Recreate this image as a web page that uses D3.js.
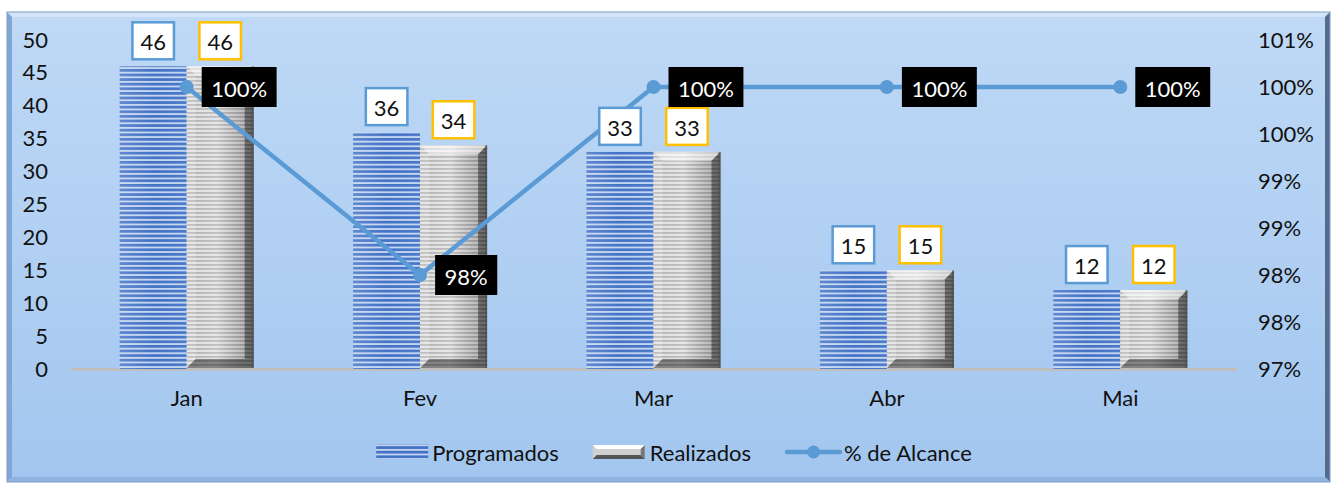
<!DOCTYPE html>
<html>
<head>
<meta charset="utf-8">
<script src="https://cdn.jsdelivr.net/npm/d3@7/dist/d3.min.js"></script>
<style>
  html, body { margin: 0; padding: 0; background: #ffffff; }
  svg { display: block; }
  text { font-family: Lato, "Noto Sans", sans-serif; }
</style>
</head>
<body>
<script>
// Monthly data
const categories = ["Jan", "Fev", "Mar", "Abr", "Mai"];
const programados = [46, 36, 33, 15, 12];
const realizados = [46, 34, 33, 15, 12];
const alcance = [1.00, 0.98, 1.00, 1.00, 1.00];
const alcanceLabels = ["100%", "98%", "100%", "100%", "100%"];
const seriesNames = ["Programados", "Realizados", "% de Alcance"];
const leftTicks = [0, 5, 10, 15, 20, 25, 30, 35, 40, 45, 50];
const rightTicks = [0.97, 0.975, 0.98, 0.985, 0.99, 0.995, 1.00, 1.005];
const rightTickLabels = ["97%", "98%", "98%", "99%", "99%", "100%", "100%", "101%"];

const W = 1336, H = 484;
const plot = { left: 70, right: 1237, top: 40, bottom: 369 };

const svg = d3.select("body").append("svg").attr("width", W).attr("height", H);
const defs = svg.append("defs");

// Chart area background
const bg = defs.append("linearGradient").attr("id", "bgGrad").attr("x1", 0).attr("y1", 0).attr("x2", 0).attr("y2", 1);
bg.append("stop").attr("offset", 0).attr("stop-color", "#bfd9f6");
bg.append("stop").attr("offset", 1).attr("stop-color", "#a2c6ef");

// Horizontal stripes for the blue series
const bluePat = defs.append("pattern").attr("id", "blueStripes")
  .attr("patternUnits", "userSpaceOnUse").attr("width", 8).attr("height", 4.6);
bluePat.append("rect").attr("width", 8).attr("height", 4.6).attr("fill", "#c2d4f0");
bluePat.append("rect").attr("y", 0).attr("width", 8).attr("height", 2.7).attr("fill", "#4272c6");

// Grey stripes for the second series
const greyPat = defs.append("pattern").attr("id", "greyStripes")
  .attr("patternUnits", "userSpaceOnUse").attr("width", 8).attr("height", 4);
greyPat.append("rect").attr("width", 8).attr("height", 4).attr("fill", "#dedede");
greyPat.append("rect").attr("y", 0).attr("width", 8).attr("height", 1.8).attr("fill", "#ababab");

const greyShade = defs.append("linearGradient").attr("id", "greyShade").attr("x1", 0).attr("y1", 0).attr("x2", 1).attr("y2", 0);
greyShade.append("stop").attr("offset", 0).attr("stop-color", "#ffffff").attr("stop-opacity", 0.05);
greyShade.append("stop").attr("offset", 0.45).attr("stop-color", "#ffffff").attr("stop-opacity", 0.25);
greyShade.append("stop").attr("offset", 1).attr("stop-color", "#000000").attr("stop-opacity", 0.22);

const blueShade = defs.append("linearGradient").attr("id", "blueShade").attr("x1", 0).attr("y1", 0).attr("x2", 1).attr("y2", 0);
blueShade.append("stop").attr("offset", 0).attr("stop-color", "#ffffff").attr("stop-opacity", 0.15);
blueShade.append("stop").attr("offset", 0.5).attr("stop-color", "#ffffff").attr("stop-opacity", 0);
blueShade.append("stop").attr("offset", 1).attr("stop-color", "#ffffff").attr("stop-opacity", 0.05);

// Frame with bevelled edges
const fx0 = 7, fy0 = 12, fx1 = 1330, fy1 = 482, b = 5;
svg.append("rect").attr("x", fx0).attr("y", fy0).attr("width", fx1 - fx0).attr("height", fy1 - fy0).attr("fill", "url(#bgGrad)");
const bevel = svg.append("g");
bevel.append("polygon").attr("points", [[fx0, fy0], [fx1, fy0], [fx1 - b, fy0 + b], [fx0 + b, fy0 + b]].join(" ")).attr("fill", "#d3e4f8");
bevel.append("polygon").attr("points", [[fx0, fy0], [fx0 + b, fy0 + b], [fx0 + b, fy1 - b], [fx0, fy1]].join(" ")).attr("fill", "#80a6d6");
bevel.append("polygon").attr("points", [[fx1, fy0], [fx1, fy1], [fx1 - b, fy1 - b], [fx1 - b, fy0 + b]].join(" ")).attr("fill", "#536c8c");
bevel.append("polygon").attr("points", [[fx0, fy1], [fx1, fy1], [fx1 - b, fy1 - b], [fx0 + b, fy1 - b]].join(" ")).attr("fill", "#90b2de");
svg.append("rect").attr("x", fx0).attr("y", fy0).attr("width", fx1 - fx0).attr("height", fy1 - fy0)
  .attr("fill", "none").attr("stroke", "#7f9cc0").attr("stroke-width", 1);

// Scales
const x = d3.scaleBand().domain(categories).range([plot.left, plot.right]).paddingInner(0).paddingOuter(0);
const xs = d3.scaleBand().domain(["p", "r"]).range([0, x.bandwidth()]).paddingInner(0).paddingOuter(0.742);
const y = d3.scaleLinear().domain([0, 50]).range([plot.bottom, plot.top]);
const y2 = d3.scaleLinear().domain([0.97, 1.005]).range([plot.bottom, plot.top]);

// Axes
const axisFont = "22px";
const leftAxis = svg.append("g").attr("transform", `translate(${plot.left - 22},0)`)
  .call(d3.axisLeft(y).tickValues(leftTicks).tickSize(0).tickPadding(0).tickFormat(d3.format("d")));
leftAxis.select(".domain").remove();
leftAxis.selectAll("text").attr("font-size", axisFont).attr("fill", "#111").attr("font-family", "Lato");

const rightAxis = svg.append("g").attr("transform", `translate(${plot.right + 21},0)`)
  .call(d3.axisRight(y2).tickValues(rightTicks).tickSize(0).tickPadding(0).tickFormat((d, i) => rightTickLabels[i]));
rightAxis.select(".domain").remove();
rightAxis.selectAll("text").attr("font-size", axisFont).attr("fill", "#111").attr("font-family", "Lato");

const bottomAxis = svg.append("g").attr("transform", `translate(0,${plot.bottom})`)
  .call(d3.axisBottom(x).tickSize(0).tickPadding(21));
bottomAxis.select(".domain").attr("stroke", "#bfbfbf").attr("stroke-width", 3);
bottomAxis.selectAll("text").attr("font-size", axisFont).attr("fill", "#111").attr("font-family", "Lato");

// Bars
const bars = svg.append("g");
categories.forEach((c, i) => {
  // Programados
  const px = x(c) + xs("p"), bw = xs.bandwidth();
  const pTop = y(programados[i]);
  bars.append("rect").attr("x", px).attr("y", pTop).attr("width", bw).attr("height", plot.bottom - pTop).attr("fill", "url(#blueStripes)");
  bars.append("rect").attr("x", px).attr("y", pTop).attr("width", bw).attr("height", plot.bottom - pTop).attr("fill", "url(#blueShade)");

  // Realizados with bevel
  const rx = x(c) + xs("r");
  const rTop = y(realizados[i]);
  const rB = plot.bottom - 1;
  const bv = 9;
  bars.append("rect").attr("x", rx).attr("y", rTop).attr("width", bw).attr("height", rB - rTop).attr("fill", "url(#greyStripes)");
  bars.append("rect").attr("x", rx).attr("y", rTop).attr("width", bw).attr("height", rB - rTop).attr("fill", "url(#greyShade)");
  const gx0 = rx, gx1 = rx + bw;
  bars.append("polygon").attr("points", [[gx0, rTop], [gx1, rTop], [gx1 - bv, rTop + bv], [gx0 + bv, rTop + bv]].join(" ")).attr("fill", "#ffffff").attr("opacity", 0.55);
  bars.append("polygon").attr("points", [[gx0, rTop], [gx0 + bv, rTop + bv], [gx0 + bv, rB - bv], [gx0, rB]].join(" ")).attr("fill", "#ffffff").attr("opacity", 0.2);
  bars.append("polygon").attr("points", [[gx1, rTop], [gx1, rB], [gx1 - bv, rB - bv], [gx1 - bv, rTop + bv]].join(" ")).attr("fill", "#000000").attr("opacity", 0.4);
  bars.append("polygon").attr("points", [[gx0, rB], [gx1, rB], [gx1 - bv, rB - bv], [gx0 + bv, rB - bv]].join(" ")).attr("fill", "#000000").attr("opacity", 0.42);
  bars.append("rect").attr("x", gx1 - 2).attr("y", rTop).attr("width", 2).attr("height", rB - rTop).attr("fill", "#4d4d4d").attr("opacity", 0.6);
});

// Line series
const cx = c => x(c) + x.bandwidth() / 2;
const lineColor = "#5b9bd5";
svg.append("path")
  .datum(alcance)
  .attr("fill", "none").attr("stroke", lineColor).attr("stroke-width", 4.5).attr("stroke-linejoin", "round")
  .attr("d", d3.line().x((d, i) => cx(categories[i])).y(d => y2(d)));
svg.append("g").selectAll("circle").data(alcance).join("circle")
  .attr("cx", (d, i) => cx(categories[i])).attr("cy", d => y2(d)).attr("r", 7).attr("fill", lineColor);

// Value labels above bars
const labelFont = "22px";
function boxLabel(g, cxv, bottom, txt, stroke) {
  const t = g.append("text").attr("x", cxv).attr("text-anchor", "middle").attr("font-size", labelFont).attr("fill", "#111").text(txt);
  const tw = t.node().getComputedTextLength();
  const bw = tw + 16, bh = 37;
  g.insert("rect", "text").attr("x", cxv - bw / 2).attr("y", bottom - bh).attr("width", bw).attr("height", bh)
    .attr("fill", "#ffffff").attr("stroke", stroke).attr("stroke-width", 2.5);
  t.attr("y", bottom - bh / 2 + 1).attr("dominant-baseline", "central");
}
categories.forEach((c, i) => {
  const g1 = svg.append("g");
  boxLabel(g1, x(c) + xs("p") + xs.bandwidth() / 2, y(programados[i]) - 7, String(programados[i]), "#5b9bd5");
  const g2 = svg.append("g");
  boxLabel(g2, x(c) + xs("r") + xs.bandwidth() / 2, y(realizados[i]) - 7, String(realizados[i]), "#ffc000");
});

// Percentage labels beside the line markers
categories.forEach((c, i) => {
  const g = svg.append("g");
  const px = cx(c) + 15, py = y2(alcance[i]);
  const t = g.append("text").attr("font-size", labelFont).attr("fill", "#ffffff").attr("dominant-baseline", "central").text(alcanceLabels[i]);
  const tw = t.node().getComputedTextLength();
  const bw = tw + 19, bh = 40;
  g.insert("rect", "text").attr("x", px).attr("y", py - bh / 2).attr("width", bw).attr("height", bh).attr("fill", "#000000");
  t.attr("x", px + bw / 2).attr("y", py + 1).attr("text-anchor", "middle");
});

// Legend, laid out left to right and centred in the frame
const legend = svg.append("g");
const ly = 452, legFont = "22px";
const texts = seriesNames.map(n => legend.append("text").attr("y", ly).attr("dominant-baseline", "central")
  .attr("font-size", legFont).attr("fill", "#111").text(n));
const tws = texts.map(t => t.node().getComputedTextLength());
const swW = [52, 52, 57], swGap = [4, 5, 2], itemGap = 34;
const total = d3.sum(swW) + d3.sum(swGap) + d3.sum(tws) + itemGap * 2;
let lx = 674 - total / 2;
const swX = [];
seriesNames.forEach((n, i) => {
  swX.push(lx);
  texts[i].attr("x", lx + swW[i] + swGap[i]);
  lx += swW[i] + swGap[i] + tws[i] + itemGap;
});

legend.append("rect").attr("x", swX[0]).attr("y", ly - 8).attr("width", swW[0]).attr("height", 15).attr("fill", "url(#blueStripes)");

const gsx = swX[1], gsw = swW[1], gsy = ly - 7, gsh = 14, gb = 4;
legend.append("rect").attr("x", gsx).attr("y", gsy).attr("width", gsw).attr("height", gsh).attr("fill", "#d0d0d0");
legend.append("polygon").attr("points", [[gsx, gsy], [gsx + gsw, gsy], [gsx + gsw - gb, gsy + gb], [gsx + gb, gsy + gb]].join(" ")).attr("fill", "#ffffff");
legend.append("polygon").attr("points", [[gsx, gsy + gsh], [gsx + gsw, gsy + gsh], [gsx + gsw - gb, gsy + gsh - gb], [gsx + gb, gsy + gsh - gb]].join(" ")).attr("fill", "#555555");
legend.append("polygon").attr("points", [[gsx + gsw, gsy], [gsx + gsw, gsy + gsh], [gsx + gsw - gb, gsy + gsh - gb], [gsx + gsw - gb, gsy + gb]].join(" ")).attr("fill", "#777777");

legend.append("line").attr("x1", swX[2] + 2).attr("x2", swX[2] + swW[2] - 2).attr("y1", ly).attr("y2", ly)
  .attr("stroke", lineColor).attr("stroke-width", 4.5).attr("stroke-linecap", "round");
legend.append("circle").attr("cx", swX[2] + swW[2] / 2).attr("cy", ly).attr("r", 6.5).attr("fill", lineColor);
</script>
</body>
</html>
